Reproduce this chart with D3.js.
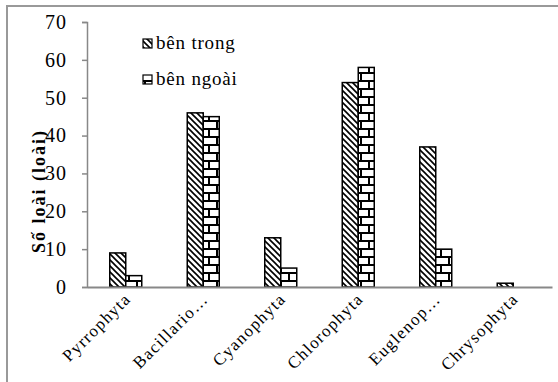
<!DOCTYPE html>
<html><head><meta charset="utf-8">
<script src="https://cdn.jsdelivr.net/npm/d3@7"></script>
<style>body{margin:0;background:#fff}svg{display:block}</style>
</head><body>
<script>
const categories = ["Pyrrophyta","Bacillario…","Cyanophyta","Chlorophyta","Euglenop…","Chrysophyta"];
const seriesNames = ["bên trong","bên ngoài"];
const inside = [9,46,13,54,37,1];
const outside = [3,45,5,58,10,0];
const yTicks = [0,10,20,30,40,50,60,70];
const yTitle = "Số loài (loài)";

const W=558,H=382;
const FF="Liberation Serif";
const svg=d3.select("body").append("svg").attr("width",W).attr("height",H).attr("font-family",FF);
const defs=svg.append("defs");
const p1=defs.append("pattern").attr("id","diag").attr("patternUnits","userSpaceOnUse").attr("width",6).attr("height",6);
p1.append("rect").attr("width",6).attr("height",6).attr("fill","#fff");
p1.append("path").attr("d","M-1,-1 L7,7 M-4,2 L1,7 M2,-4 L7,1").attr("stroke","#000").attr("stroke-width",1.6);
const p2=defs.append("pattern").attr("id","brick").attr("patternUnits","userSpaceOnUse").attr("width",16).attr("height",16);
p2.append("rect").attr("width",16).attr("height",16).attr("fill","#fff");
p2.append("path").attr("d","M0,1 H16 M0,9 H16 M1,1 V9 M9,9 V16").attr("stroke","#000").attr("stroke-width",2);

svg.append("rect").attr("x",7).attr("y",6).attr("width",W).attr("height",H).attr("fill","none").attr("stroke","#999").attr("stroke-width",2);

const x0=87,x1=552,yTop=22,yBot=287;
const x=d3.scaleBand().domain(categories).range([x0,x1]);
const y=d3.scaleLinear().domain([0,70]).range([yBot,yTop]);
const bw=16;
const xs=d3.scaleBand().domain([0,1]).range([0,bw*2]);

const ya=svg.append("g").attr("transform",`translate(${x0},0)`).call(d3.axisLeft(y).tickValues(yTicks).tickSize(5).tickPadding(15));
ya.attr("font-family",FF).attr("font-size",20);
ya.select(".domain").attr("stroke","#888").attr("stroke-width",1.5);
ya.selectAll(".tick line").attr("stroke","#888").attr("stroke-width",1.5);
ya.selectAll(".tick text").attr("font-family",FF).attr("font-size",20).attr("letter-spacing",1).attr("fill","#000");

const data=[inside,outside];
const fills=["url(#diag)","url(#brick)"];
categories.forEach((c,i)=>{
  const cx=x(c)+x.bandwidth()/2-bw;
  data.forEach((s,k)=>{
    const v=s[i];
    if(v<=0) return;
    svg.append("rect").attr("x",cx+xs(k)).attr("y",y(v)).attr("width",bw).attr("height",y(0)-y(v))
      .attr("fill",fills[k]).attr("stroke","#000").attr("stroke-width",1.5);
  });
});

const xa=svg.append("g").attr("transform",`translate(0,${yBot})`).call(d3.axisBottom(x).tickSize(0).tickSizeOuter(0).tickPadding(0));
xa.attr("font-family",FF).attr("font-size",17);
xa.select(".domain").attr("stroke","#888").attr("stroke-width",2);
xa.selectAll(".tick text").attr("font-family",FF).attr("font-size",17).attr("letter-spacing",1.3).attr("fill","#000")
  .attr("text-anchor","end").attr("dy",0).attr("transform","translate(6,13) rotate(-45)");

svg.append("text").attr("transform","translate(45,191) rotate(-90)").attr("text-anchor","middle")
  .attr("font-family",FF).attr("font-size",18).attr("letter-spacing",2).attr("font-weight","bold").text(yTitle);

seriesNames.forEach((n,k)=>{
  const ly=39+k*36;
  svg.append("rect").attr("x",143).attr("y",ly).attr("width",9).attr("height",9).attr("fill",fills[k]).attr("stroke","#000").attr("stroke-width",1.2);
  svg.append("text").attr("x",156).attr("y",ly+10).attr("font-family",FF).attr("font-size",19).attr("letter-spacing",0.8).attr("fill","#000").text(n);
});
</script>
</body></html>
